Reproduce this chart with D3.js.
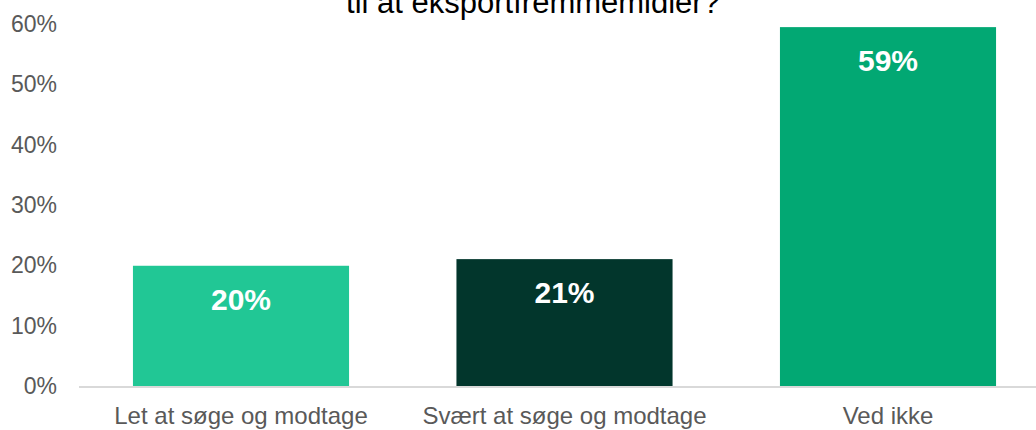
<!DOCTYPE html>
<html>
<head>
<meta charset="utf-8">
<script src="https://cdn.jsdelivr.net/npm/d3@7"></script>
<style>
  html, body { margin: 0; padding: 0; background: #fff; }
  svg { display: block; font-family: 'Liberation Sans', Arial, sans-serif; }
</style>
</head>
<body>
<svg id="chart" width="1036" height="430"></svg>
<script>
// Data
var categories = ['Let at søge og modtage', 'Svært at søge og modtage', 'Ved ikke'];
var values = [19.9, 21, 59.4];
var barColors = ['#21c795', '#02362c', '#02a873'];
var yTicks = [0, 10, 20, 30, 40, 50, 60];
var titleText = 'til at eksportfremmemidler?';

/*************************************************/

var svg = d3.select('#chart');

var xScale = d3.scaleBand().domain(categories).range([79.25, 1049.75])
  .paddingInner(0.332).paddingOuter(0.166);
var yScale = d3.scaleLinear().domain([0, 60]).range([386, 23.5]);

// title (top line is cut off in the original)
svg.append('text').attr('x', 533).attr('y', 13)
  .attr('text-anchor', 'middle').style('font-size', '31px').style('fill', '#000')
  .text(titleText);

// y tick labels
svg.append('g').selectAll('text').data(yTicks).enter().append('text')
  .attr('x', 57).attr('y', function(d){ return yScale(d) })
  .attr('dy', '0.36em').attr('text-anchor', 'end')
  .style('font-size', '23px').style('fill', '#595959')
  .text(function(d){ return d + '%' });

// bars
svg.append('g').selectAll('rect').data(values).enter().append('rect')
  .attr('x', function(d, i){ return xScale(categories[i]) })
  .attr('y', function(d){ return yScale(d) })
  .attr('width', xScale.bandwidth())
  .attr('height', function(d){ return yScale(0) - yScale(d) })
  .style('fill', function(d, i){ return barColors[i] });

// baseline
svg.append('line').attr('x1', 79).attr('x2', 1050)
  .attr('y1', yScale(0) + 1).attr('y2', yScale(0) + 1)
  .style('stroke', '#d9d9d9').style('stroke-width', 2);

// value labels
svg.append('g').selectAll('text').data(values).enter().append('text')
  .attr('x', function(d, i){ return xScale(categories[i]) + xScale.bandwidth()/2 })
  .attr('y', function(d){ return yScale(d) + 44 })
  .attr('text-anchor', 'middle')
  .style('font-size', '30px').style('font-weight', 'bold').style('fill', '#fff')
  .text(function(d){ return Math.round(d) + '%' });

// category labels
svg.append('g').selectAll('text').data(categories).enter().append('text')
  .attr('x', function(d){ return xScale(d) + xScale.bandwidth()/2 })
  .attr('y', 424).attr('text-anchor', 'middle')
  .style('font-size', '24px').style('fill', '#595959')
  .text(function(d){ return d });
</script>
</body>
</html>
